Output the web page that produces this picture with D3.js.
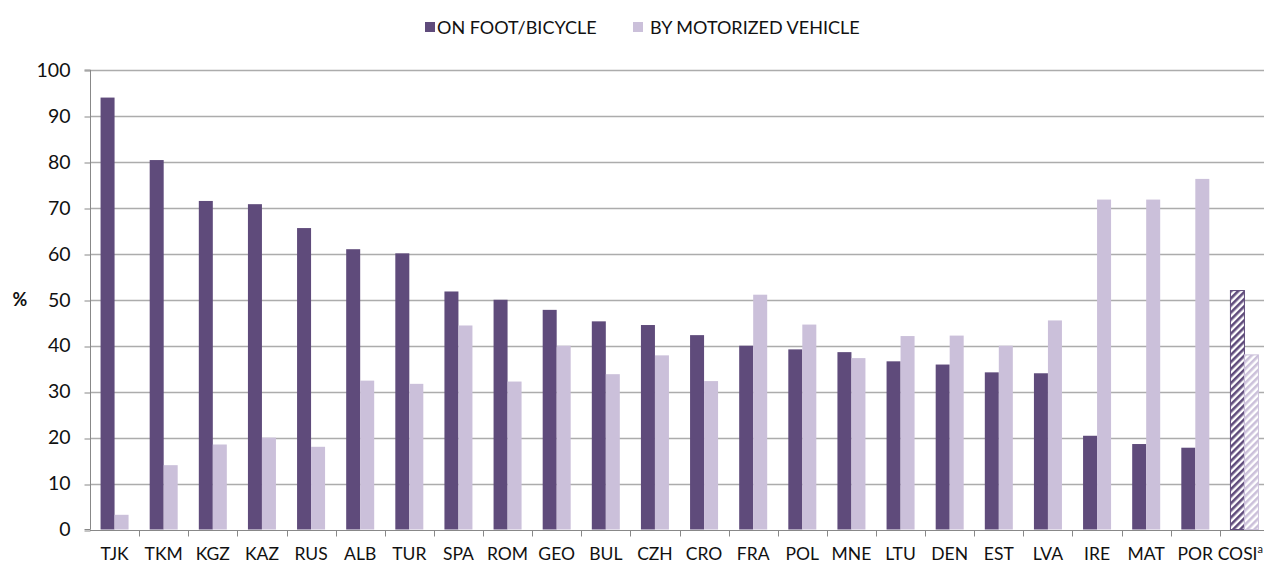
<!DOCTYPE html>
<html lang="en">
<head>
  <meta charset="UTF-8">
  <title>Travel to school</title>
  <style>
    html, body { margin: 0; background: #fff; }
    svg { display: block; font-family: Lato, 'Open Sans', sans-serif; }
  </style>
  <script src="https://cdn.jsdelivr.net/npm/d3@7/dist/d3.min.js"></script>
</head>
<body>
  <script>
    const width = 1264
    const height = 565

    // data
    const countries = ['TJK', 'TKM', 'KGZ', 'KAZ', 'RUS', 'ALB', 'TUR', 'SPA', 'ROM', 'GEO', 'BUL', 'CZH',
      'CRO', 'FRA', 'POL', 'MNE', 'LTU', 'DEN', 'EST', 'LVA', 'IRE', 'MAT', 'POR', 'COSI']
    const onFoot = [94, 80.4, 71.5, 70.8, 65.6, 61, 60.1, 51.8, 50, 47.8, 45.3, 44.5,
      42.3, 40, 39.2, 38.6, 36.6, 35.9, 34.2, 34, 20.4, 18.6, 17.8, 52]
    const byVehicle = [3.2, 14, 18.5, 20, 18, 32.4, 31.7, 44.4, 32.2, 40, 33.8, 37.9,
      32.3, 51.1, 44.6, 37.3, 42.1, 42.2, 40, 45.5, 71.8, 71.8, 76.3, 38]
    const seriesNames = ['ON FOOT/BICYCLE', 'BY MOTORIZED VEHICLE']
    const yTicks = [0, 10, 20, 30, 40, 50, 60, 70, 80, 90, 100]

    const colors = ['#5f4b7b', '#cbc0da']
    const margin = { left: 90, right: -5, top: 70, bottom: 35 }

    const svg = d3.select('body').append('svg')
      .attr('width', width)
      .attr('height', height)

    // hatch patterns for the COSI average
    const defs = svg.append('defs')
    colors.forEach((c, i) => {
      const p = defs.append('pattern')
        .attr('id', 'hatch' + i)
        .attr('patternUnits', 'userSpaceOnUse')
        .attr('width', 5)
        .attr('height', 5)
        .attr('patternTransform', 'rotate(45)')
      p.append('rect').attr('width', 5).attr('height', 5).attr('fill', '#fff')
      p.append('rect').attr('width', 2.6).attr('height', 5).attr('fill', c)
    })

    const x0 = d3.scaleBand()
      .domain(countries)
      .range([margin.left, width - margin.right])
      .paddingInner(0.43)
      .paddingOuter(0.215)
    const x1 = d3.scaleBand()
      .domain([0, 1])
      .range([0, x0.bandwidth()])

    const y = d3.scaleLinear()
      .domain([0, 100])
      .range([height - margin.bottom - 0.5, margin.top])

    // gridlines
    svg.append('g')
      .selectAll('line')
      .data(yTicks.slice(1))
      .join('line')
      .attr('x1', margin.left)
      .attr('x2', width)
      .attr('y1', d => Math.round(y(d)) + 0.5)
      .attr('y2', d => Math.round(y(d)) + 0.5)
      .attr('stroke', '#acacac')
      .attr('stroke-width', 1.5)

    // bars
    const rows = countries.map((c, i) => ({ c, vals: [onFoot[i], byVehicle[i]] }))
    const groups = svg.append('g')
      .selectAll('g')
      .data(rows)
      .join('g')
      .attr('transform', d => `translate(${x0(d.c)},0)`)

    groups.selectAll('rect')
      .data(d => d.vals.map((v, k) => ({ v, k, avg: d.c === 'COSI' })))
      .join('rect')
      .attr('x', d => x1(d.k))
      .attr('y', d => y(d.v))
      .attr('width', x1.bandwidth())
      .attr('height', d => y(0) - y(d.v))
      .attr('fill', d => d.avg ? `url(#hatch${d.k})` : colors[d.k])
      .attr('stroke', d => d.avg ? colors[d.k] : 'none')
      .attr('stroke-width', 1)

    // x axis
    const gx = svg.append('g')
      .attr('transform', `translate(0,${Math.round(y(0)) + 0.5})`)
    gx.append('line')
      .attr('x1', margin.left).attr('x2', width)
      .attr('stroke', '#888')
    gx.selectAll('.tick')
      .data(countries.slice(1))
      .join('line')
      .attr('class', 'tick')
      .attr('x1', d => Math.round(x0(d) - x0.step() * 0.215) + 0.5)
      .attr('x2', d => Math.round(x0(d) - x0.step() * 0.215) + 0.5)
      .attr('y1', 0).attr('y2', 6)
      .attr('stroke', '#888')
    gx.selectAll('text')
      .data(countries)
      .join('text')
      .attr('x', d => d === 'COSI' ? width - 1 : x0(d) + x0.bandwidth() / 2)
      .attr('y', 29)
      .attr('text-anchor', d => d === 'COSI' ? 'end' : 'middle')
      .attr('font-size', 17.5)
      .attr('fill', '#111')
      .text(d => d)
      .filter(d => d === 'COSI')
      .append('tspan')
      .attr('font-size', 11)
      .attr('dy', -7)
      .text('a')

    // y axis
    const yAxis = d3.axisLeft(y).tickValues(yTicks).tickSize(6).tickPadding(14)
    const gy = svg.append('g')
      .attr('transform', `translate(${margin.left + 0.5},0)`)
      .call(yAxis)
    gy.select('.domain').attr('stroke', '#888').attr('d', `M-6,${y(0)}H0V${y(100)}H-6`)
    gy.selectAll('.tick line').attr('stroke', '#888')
      .attr('transform', d => `translate(0,${Math.round(y(d)) + 0.5 - y(d)})`)
    gy.selectAll('.tick text')
      .attr('font-size', 19.5)
      .attr('font-family', 'Lato, sans-serif')
      .attr('fill', '#111')

    svg.append('text')
      .attr('x', 20)
      .attr('y', 306)
      .attr('text-anchor', 'middle')
      .attr('font-size', 18)
      .attr('font-weight', 'bold')
      .attr('fill', '#111')
      .text('%')

    // legend
    const legendX = [425, 633]
    const legend = svg.append('g')
      .selectAll('g')
      .data(seriesNames)
      .join('g')
      .attr('transform', (d, i) => `translate(${legendX[i]},22)`)
    legend.append('rect')
      .attr('width', 10).attr('height', 10)
      .attr('fill', (d, i) => colors[i])
    legend.append('text')
      .attr('x', (d, i) => i === 0 ? 12 : 17)
      .attr('y', 12)
      .attr('font-size', 18)
      .attr('fill', '#111')
      .text(d => d)
  </script>
</body>
</html>
